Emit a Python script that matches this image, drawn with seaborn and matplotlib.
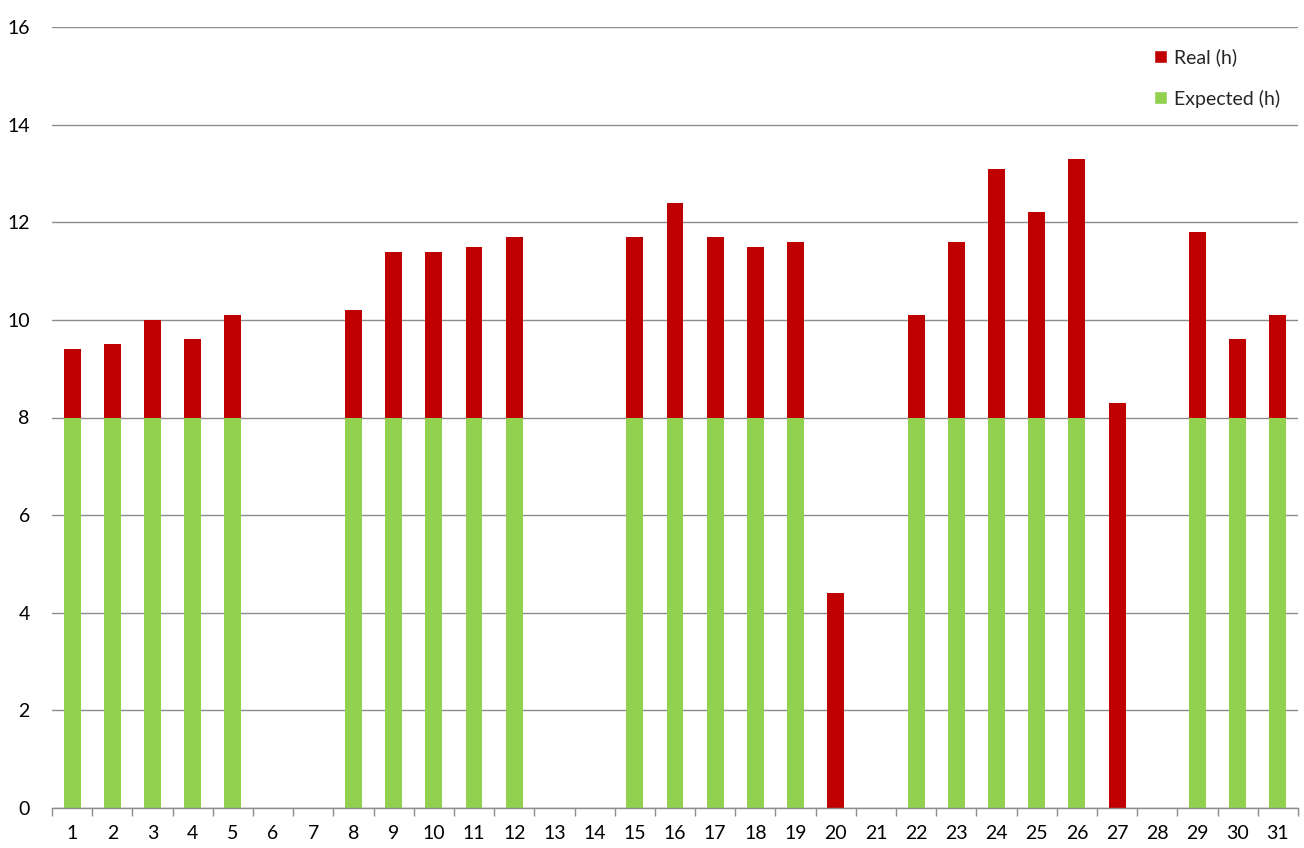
import matplotlib
matplotlib.use("Agg")
import matplotlib.pyplot as plt
from matplotlib.patches import Patch
from matplotlib.ticker import FixedLocator
import seaborn as sns
import pandas as pd

days = [str(d) for d in range(1, 32)]
real = [9.4, 9.5, 10.0, 9.6, 10.1, 0, 0, 10.2, 11.4, 11.4, 11.5, 11.7, 0, 0,
        11.7, 12.4, 11.7, 11.5, 11.6, 4.4, 0, 10.1, 11.6, 13.1, 12.2, 13.3, 8.3,
        0, 11.8, 9.6, 10.1]
expected = [8, 8, 8, 8, 8, 0, 0, 8, 8, 8, 8, 8, 0, 0,
            8, 8, 8, 8, 8, 0, 0, 8, 8, 8, 8, 8, 0,
            0, 8, 8, 8]

RED = "#C00000"
GREEN = "#92D050"

sns.set_theme(style="white")
plt.rcParams['font.family'] = ['Lato', 'DejaVu Sans']

df = pd.DataFrame({"day": days, "real": real, "expected": expected})

fig = plt.figure(figsize=(13.04, 8.48), dpi=100)
ax = fig.add_axes([52/1304, 1-808/848, (1298-52)/1304, (808-27)/848])

sns.barplot(data=df, x="day", y="real", order=days, color=RED, width=0.42,
            saturation=1, linewidth=0, edgecolor="none", ax=ax, zorder=3)
sns.barplot(data=df, x="day", y="expected", order=days, color=GREEN, width=0.42,
            saturation=1, linewidth=0, edgecolor="none", ax=ax, zorder=4)

ax.set_ylim(0, 16)
ax.set_xlim(-0.5, 30.5)
ax.set_yticks(range(0, 17, 2))
ax.yaxis.grid(True, color="#8C8C8C", linewidth=1, zorder=0)
ax.set_axisbelow(True)
ax.set_xlabel("")
ax.set_ylabel("")
for s in ["left", "right", "top"]:
    ax.spines[s].set_visible(False)
ax.spines["bottom"].set_color("#8C8C8C")
ax.spines["bottom"].set_linewidth(1)
ax.spines["bottom"].set_zorder(5)

ax.tick_params(axis="y", length=0, labelsize=14, pad=16, colors="black")
ax.tick_params(axis="x", which="major", length=0, labelsize=14, pad=12, colors="black")
ax.xaxis.set_minor_locator(FixedLocator([i - 0.5 for i in range(32)]))
ax.tick_params(axis="x", which="minor", bottom=True, length=6, width=1,
               color="#8C8C8C", direction="out")

handles = [Patch(facecolor=RED, label="Real (h)"), Patch(facecolor=GREEN, label="Expected (h)")]
ax.legend(handles=handles, loc="upper right", bbox_to_anchor=(1.0, 0.995), frameon=False,
          fontsize=14, handlelength=0.65, handleheight=0.65, handletextpad=0.4,
          labelspacing=1.2)

fig.savefig("out.png", dpi=100)
